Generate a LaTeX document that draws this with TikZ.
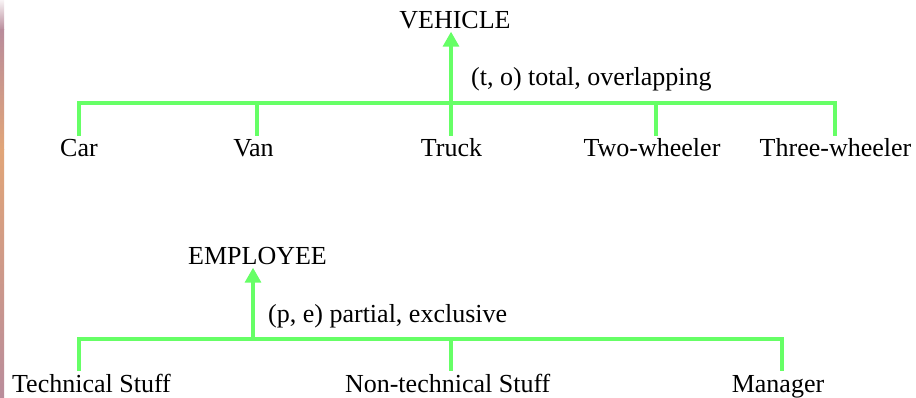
\documentclass[tikz,border=0pt]{standalone}
\usepackage{fontspec}
\setmainfont{Liberation Serif}
\usetikzlibrary{arrows.meta}
\definecolor{lgreen}{RGB}{102,255,102}
\definecolor{stripA}{RGB}{185,140,155}
\definecolor{stripB}{RGB}{225,165,120}
\tikzset{
  lbl/.style={font=\fontsize{26}{30}\selectfont, inner sep=3pt, anchor=base},
  child/.style={lbl, text height=18.2pt, text depth=6.5pt},
  parent/.style={lbl, text depth=0pt, inner sep=2.5pt},
  note/.style={lbl, anchor=base west, inner sep=0pt},
  conn/.style={draw=lgreen, line width=3.2pt},
  arr/.style={conn, -{Triangle[width=16pt,length=15pt]}}
}
\begin{document}
\begin{tikzpicture}[x=1pt,y=-1pt]
\useasboundingbox (0,0) rectangle (916,398);
\fill[white] (0,0) rectangle (916,398);
% left strip
\shade[top color=white!90!stripA, bottom color=stripA] (0,0) rectangle (4,30);
\shade[top color=stripA, bottom color=stripB] (0,30) rectangle (4,150);
\shade[top color=stripB, bottom color=stripA] (0,150) rectangle (4,398);

% ---------- VEHICLE ----------
\node[parent] (vehicle) at (455,29) {VEHICLE};
\node[child] (car)   at (79,157)    {Car};
\node[child] (van)   at (253.5,157) {Van};
\node[child] (truck) at (451.5,157) {Truck};
\node[child] (two)   at (652,157)   {Two-wheeler};
\node[child] (three) at (835.5,157) {Three-wheeler};
\node[note] (tlbl) at (471,86) {(t, o) total, overlapping};

\coordinate (v1) at (79,103);
\coordinate (v2) at (257,103);
\coordinate (v3) at (451,103);
\coordinate (v4) at (656,103);
\coordinate (v5) at (835,103);
\draw[conn] (v1 |- car.north) -- (v1) -- (v5) -- (v5 |- three.north);
\draw[conn] (v2) -- (v2 |- van.north);
\draw[conn] (v3) -- (v3 |- truck.north);
\draw[conn] (v4) -- (v4 |- two.north);
\draw[arr] (v3) -- (v3 |- vehicle.south);

% ---------- EMPLOYEE ----------
\node[parent] (employee) at (257.5,265) {EMPLOYEE};
\node[child] (tech)    at (91.5,392)  {Technical Stuff};
\node[child] (nontech) at (447.7,392) {Non-technical Stuff};
\node[child] (manager) at (778,392)   {Manager};
\node[note] (plbl) at (268,322) {(p, e) partial, exclusive};

\coordinate (e1) at (79,339);
\coordinate (e2) at (253,339);
\coordinate (e3) at (451,339);
\coordinate (e4) at (782,339);
\draw[conn] (e1 |- tech.north) -- (e1) -- (e4) -- (e4 |- manager.north);
\draw[conn] (e3) -- (e3 |- nontech.north);
\draw[arr] (e2) -- (e2 |- employee.south);
\end{tikzpicture}
\end{document}
